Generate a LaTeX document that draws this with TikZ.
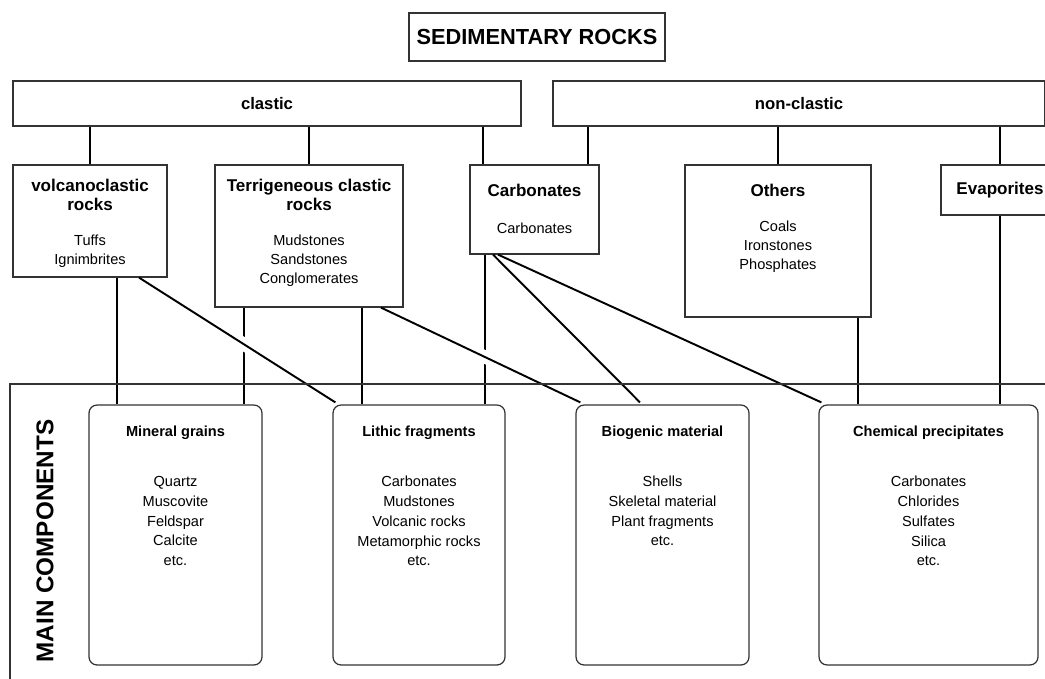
\documentclass[tikz,border=0pt]{standalone}
\usepackage{fontspec}
\setmainfont{Liberation Sans}
\usetikzlibrary{positioning,calc}

\tikzset{
  rock/.style={draw=black!80, line width=0.7pt, shape=rectangle, inner sep=0pt},
  part/.style={rock, rounded corners=0.16cm},
  head/.style={font=\bfseries\fontsize{9.7}{10.8}\selectfont, align=center, inner sep=0pt},
  items/.style={font=\fontsize{8.3}{10.8}\selectfont, align=center, inner sep=0pt},
  partitems/.style={font=\fontsize{8.3}{11.3}\selectfont, align=center, inner sep=0pt},
  link/.style={line width=1.1pt},
  gap/.style={link, preaction={draw=white, line width=7.4pt, shorten <=0.4cm, shorten >=0.4cm}}
}

\begin{document}
\begin{tikzpicture}[x=0.02cm, y=-0.02cm]
\useasboundingbox (0,0) rectangle (1045,679);

% top levels
\node[rock, minimum width=5.12cm, minimum height=0.96cm, font=\bfseries\fontsize{12.4}{14}\selectfont] (sed) at (537,37) {SEDIMENTARY ROCKS};
\node[rock, minimum width=10.16cm, minimum height=0.9cm, font=\bfseries\fontsize{9.5}{11}\selectfont] (clastic) at (267,103.5) {clastic};
\node[rock, minimum width=9.84cm, minimum height=0.9cm, font=\bfseries\fontsize{9.5}{11}\selectfont] (nonclastic) at (799,103.5) {non-clastic};

% rock groups
\node[rock, minimum width=3.08cm, minimum height=2.24cm] (volc) at (90,221) {};
\node[head] (volcT) at (90,194.5) {volcanoclastic\\rocks};
\node[items] (volcI) at (90,251.5) {Tuffs\\Ignimbrites};

\node[rock, minimum width=3.76cm, minimum height=2.84cm] (terr) at (309,236) {};
\node[head] (terrT) at (309,194.5) {Terrigeneous clastic\\rocks};
\node[items] (terrI) at (309,261) {Mudstones\\Sandstones\\Conglomerates};

\node[rock, minimum width=2.58cm, minimum height=1.78cm] (carb) at (534.5,209.5) {};
\node[head] (carbT) at (534.5,190) {Carbonates};
\node[items] (carbI) at (534.5,228) {Carbonates};

\node[rock, minimum width=3.72cm, minimum height=3.04cm] (others) at (778,241) {};
\node[head] (othersT) at (778,190) {Others};
\node[items] (othersI) at (778,246.5) {Coals\\Ironstones\\Phosphates};

\node[rock, minimum width=2.36cm, minimum height=1.0cm, font=\bfseries\fontsize{9.7}{10.8}\selectfont] (evap) at (1000,190) {Evaporites};

% main components
\node[part, minimum width=3.46cm, minimum height=5.2cm] (mineral) at (175.5,535) {};
\node[head, font=\bfseries\fontsize{8.3}{10}\selectfont] (mineralT) at (175.5,433) {Mineral grains};
\node[partitems] (mineralI) at (175.5,521) {Quartz\\Muscovite\\Feldspar\\Calcite\\etc.};

\node[part, minimum width=3.44cm, minimum height=5.2cm] (lithic) at (419,535) {};
\node[head, font=\bfseries\fontsize{8.3}{10}\selectfont] (lithicT) at (419,433) {Lithic fragments};
\node[partitems] (lithicI) at (419,521) {Carbonates\\Mudstones\\Volcanic rocks\\Metamorphic rocks\\etc.};

\node[part, minimum width=3.46cm, minimum height=5.2cm] (bio) at (662.5,535) {};
\node[head, font=\bfseries\fontsize{8.3}{10}\selectfont] (bioT) at (662.5,433) {Biogenic material};
\node[partitems] (bioI) at (662.5,511) {Shells\\Skeletal material\\Plant fragments\\etc.};

\node[part, minimum width=4.38cm, minimum height=5.2cm] (chem) at (928.5,535) {};
\node[head, font=\bfseries\fontsize{8.3}{10}\selectfont] (chemT) at (928.5,433) {Chemical precipitates};
\node[partitems] (chemI) at (928.5,521) {Carbonates\\Chlorides\\Sulfates\\Silica\\etc.};

\node[rotate=90, font=\bfseries\fontsize{13.8}{15}\selectfont] (mc) at (45,541) {MAIN COMPONENTS};

% links from the groups above
\draw[link] (clastic.south -| volc.north) -- (volc.north);
\draw[link] (clastic.south -| terr.north) -- (terr.north);
\draw[link] (clastic.south -| 483,0) -- (carb.north -| 483,0);
\draw[link] (nonclastic.south -| 588,0) -- (carb.north -| 588,0);
\draw[link] (nonclastic.south -| others.north) -- (others.north);
\draw[link] (nonclastic.south -| evap.north) -- (evap.north);

% links down to the components
\draw[link] (volc.south -| 117,0) -- (mineral.north -| 117,0);
\draw[link] (terr.south -| 244,0) -- (mineral.north -| 244,0);
\draw[link] (terr.south -| 362,0) -- (lithic.north -| 362,0);
\draw[link] (carb.south -| 485,0) -- (lithic.north -| 485,0);
\draw[link] (others.south -| 858,0) -- (chem.north -| 858,0);
\draw[link] (evap.south) -- (chem.north -| evap.south);

\draw[gap] (volc.south -| 139,0) -- ($(lithic.north west)+(3,-2)$);
\draw[gap] (terr.south -| 381,0) -- ($(bio.north west)+(5,-2)$);
\draw[link] (carb.south -| 493,0) -- ($(bio.north -| 640,0)+(0,-2)$);
\draw[link] (carb.south -| 498,0) -- ($(chem.north west)+(3,-2)$);

% frame
\draw[draw=black!80, line width=0.9pt] (10,700) |- (1060,384);
\end{tikzpicture}
\end{document}
